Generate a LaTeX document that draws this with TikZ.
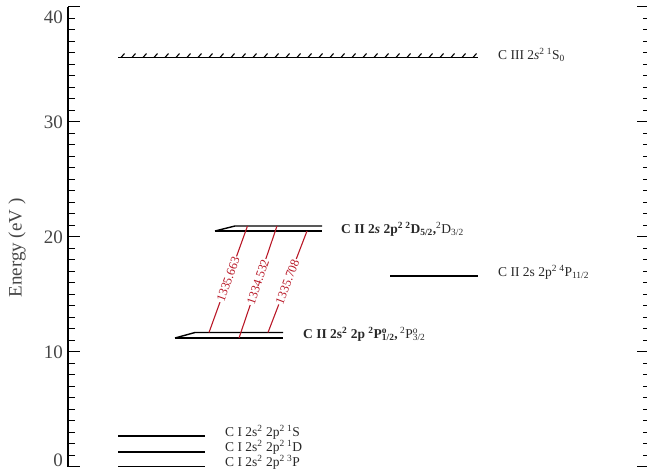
\documentclass[tikz,border=0pt]{standalone}
\usepackage{fontspec}
\setmainfont{Liberation Serif}
\definecolor{transred}{RGB}{185,25,40}
\definecolor{inkgray}{RGB}{40,40,40}
\definecolor{numgray}{RGB}{70,70,70}
\begin{document}
\begin{tikzpicture}[x=1pt,y=-1pt,
  level/.style={line width=1.4pt, line cap=butt},
  axisline/.style={line width=1.4pt},
  tickline/.style={line width=1.2pt},
  trans/.style={draw=transred, line width=1.1pt},
  translbl/.style={midway, sloped, fill=white, text=transred, inner sep=0.8pt,
     font=\fontsize{12.5}{12.5}\selectfont},
  lbl/.style={anchor=west, inner sep=0pt, text=inkgray, font=\fontsize{13.5}{13.5}\selectfont},
  ticklbl/.style={anchor=east, inner sep=0pt, text=numgray, font=\fontsize{19}{19}\selectfont},
]
\useasboundingbox (0,0) rectangle (647,472);

% axes
\draw[axisline] (68,6.7) -- (68,466.7);
\foreach \e in {0,...,40}{
  \pgfmathsetmacro{\yy}{466.7-11.5*\e}
  \draw[tickline] (68,\yy) -- (75,\yy);
  \draw[tickline] (647,\yy) -- (642.5,\yy);
}
\foreach \e in {0,10,20,30,40}{
  \pgfmathsetmacro{\yy}{466.7-11.5*\e}
  \draw[tickline] (68,\yy) -- (80,\yy);
  \draw[tickline] (647,\yy) -- (637,\yy);
}
\node[ticklbl] (t40) at (63,17) {40};
\node[ticklbl] (t30) at (63,122) {30};
\node[ticklbl] (t20) at (63,237) {20};
\node[ticklbl] (t10) at (63,352) {10};
\node[ticklbl] (t0) at (63,460) {0};
\node[rotate=90, text=numgray, font=\fontsize{19}{19}\selectfont] (ylab) at (17,248) {Energy (eV )};

% C III level (hatched)
\draw[level] (118,57.5) -- (478,57.5);
\foreach \x in {121,132,...,475}{
  \draw[line width=1.1pt] (\x,57.5) -- (\x+3.5,53.5);
}
\node[lbl] (c3) at (498,55) {C III 2\textit{s}\textsuperscript{2}\,\textsuperscript{1}S\textsubscript{0}};

% C II 2D level
\draw[level] (215,231) -- (235,226) -- (322,226);
\draw[level] (215,231) -- (322,231);
\node[lbl] (c2d) at (341,229) {\textbf{C II 2\textit{s} 2p\textsuperscript{2}\,\textsuperscript{2}D\textsubscript{5/2},}\textsuperscript{2}D\textsubscript{3/2}};

% C II 4P level
\draw[level] (390,276) -- (478,276);
\node[lbl] (c4p) at (498,272) {C II 2s 2p\textsuperscript{2}\,\textsuperscript{4}P\textsubscript{11/2}};

% C II 2P level
\draw[level] (175,338) -- (195,332.5) -- (283,332.5);
\draw[level] (175,338) -- (283,338);
\node[lbl] (c2p) at (303,334) {\textbf{C II 2s\textsuperscript{2} 2p \textsuperscript{2}P\rlap{\textsuperscript{o}}\textsubscript{1/2},}\,\textsuperscript{2}P\rlap{\textsuperscript{o}}\textsubscript{3/2}};

% C I levels
\draw[level] (118,436) -- (205,436);
\draw[level] (118,452) -- (205,452);
\draw[level] (118,466.5) -- (205,466.5);
\node[lbl] (c1s) at (225,432) {C I 2s\textsuperscript{2} 2p\textsuperscript{2}\,\textsuperscript{1}S};
\node[lbl] (c1d) at (225,447) {C I 2s\textsuperscript{2} 2p\textsuperscript{2}\,\textsuperscript{1}D};
\node[lbl] (c1p) at (225,462) {C I 2s\textsuperscript{2} 2p\textsuperscript{2}\,\textsuperscript{3}P};

% transitions
\coordinate (a1) at (209,332.5);
\coordinate (b1) at (247.5,226);
\coordinate (a2) at (239,338);
\coordinate (b2) at (277,226);
\coordinate (a3) at (268,332.5);
\coordinate (b3) at (307,231);
\draw[trans] (a1) -- node[translbl] (l1) {1335.663} (b1);
\draw[trans] (a2) -- node[translbl] (l2) {1334.532} (b2);
\draw[trans] (a3) -- node[translbl] (l3) {1335.708} (b3);
\end{tikzpicture}
\end{document}
